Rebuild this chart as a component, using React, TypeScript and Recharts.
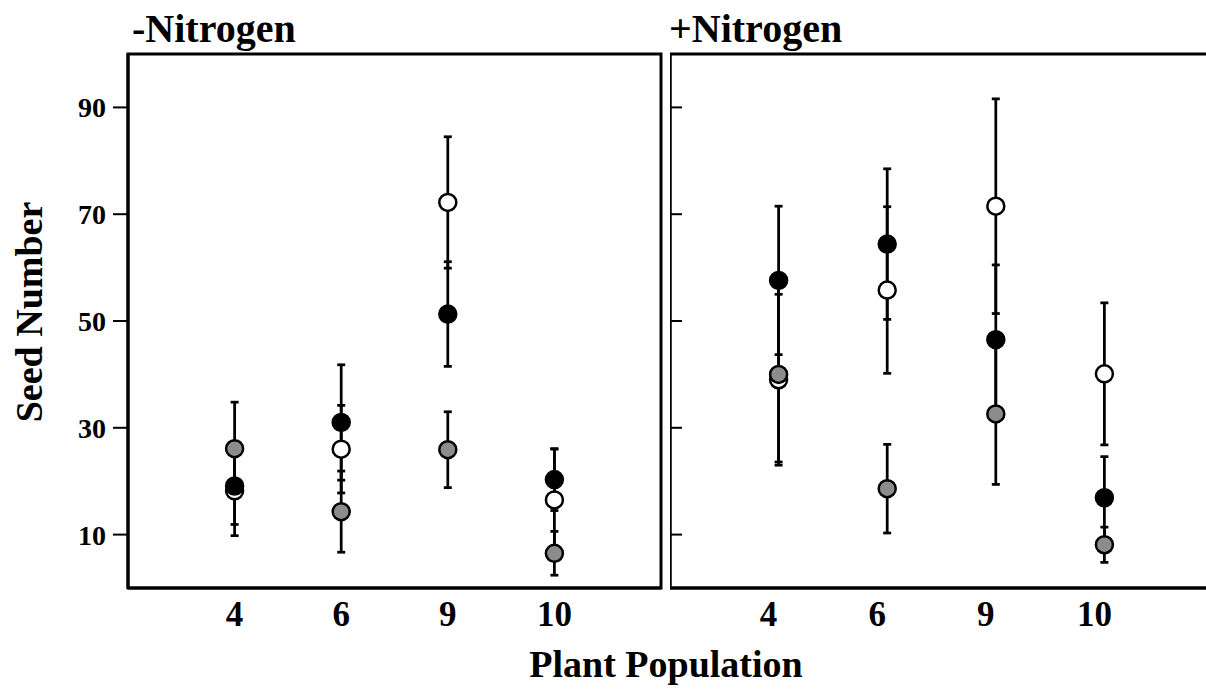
import { ErrorBar, ReferenceArea, Scatter, ScatterChart, XAxis, YAxis } from "recharts"

const populations = ["4", "6", "9", "10"]
const yTicks = [10, 30, 50, 70, 90]

// -Nitrogen
const lowNOpen = [18.2, 26.0, 72.2, 16.5]
const lowNOpenErr = [8.4, 8.2, 12.3, 9.5]
const lowNFilled = [19.1, 31.0, 51.3, 20.3]
const lowNFilledErr = [7.2, 10.8, 9.8, 5.8]
const lowNGrey = [26.1, 14.3, 25.9, 6.5]
const lowNGreyErr = [8.7, 7.6, 7.1, 4.1]

// +Nitrogen
const highNOpen = [39.0, 55.8, 71.5, 40.1]
const highNOpenErr = [16.0, 15.6, 20.1, 13.3]
const highNFilled = [57.6, 64.4, 46.5, 16.9]
const highNFilledErr = [13.9, 14.1, 14.0, 7.7]
const highNGrey = [40.0, 18.6, 32.6, 8.1]
const highNGreyErr = [16.4, 8.3, 13.2, 3.3]

const serif = "'Liberation Serif', 'Times New Roman', serif"

type Row = { x: number; y: number; err: number }
type Series = { name: string; fill: string; rows: Row[] }

const rows = (vals: number[], errs: number[]): Row[] =>
  vals.map((y, i) => ({ x: i + 1, y, err: errs[i] }))

const lowSeries: Series[] = [
  { name: "open", fill: "#ffffff", rows: rows(lowNOpen, lowNOpenErr) },
  { name: "filled", fill: "#000000", rows: rows(lowNFilled, lowNFilledErr) },
  { name: "grey", fill: "#8c8c8c", rows: rows(lowNGrey, lowNGreyErr) },
]

const highSeries: Series[] = [
  { name: "open", fill: "#ffffff", rows: rows(highNOpen, highNOpenErr) },
  { name: "filled", fill: "#000000", rows: rows(highNFilled, highNFilledErr) },
  { name: "grey", fill: "#8c8c8c", rows: rows(highNGrey, highNGreyErr) },
]

function Panel({ series, first, width }: { series: Series[]; first: boolean; width: number }) {
  const axisW = first ? 128 : 10
  return (
    <ScatterChart width={width} height={689} margin={{ top: 54, right: width - axisW - 533, bottom: 41, left: 0 }}>
      <ReferenceArea x1={0} x2={5} y1={0} y2={100} fill="none" stroke="#000" strokeWidth={3} />
      <XAxis
        type="number"
        dataKey="x"
        domain={[0, 5]}
        ticks={[1, 2, 3, 4]}
        interval={0}
        tickFormatter={(v: number) => populations[v - 1]}
        axisLine={{ stroke: "#000", strokeWidth: 3 }}
        tickLine={false}
        tickSize={0}
        tickMargin={13}
        height={60}
        tick={{ fill: "#000", fontSize: 35, fontWeight: "bold", fontFamily: serif, dx: first ? 0 : -10 }}
      />
      <YAxis
        type="number"
        dataKey="y"
        domain={[0, 100]}
        ticks={yTicks}
        interval={0}
        width={axisW}
        mirror={!first}
        axisLine={{ stroke: "#000", strokeWidth: 3 }}
        tickLine={{ stroke: "#000", strokeWidth: 2 }}
        tickSize={first ? 15 : 12}
        tickMargin={7}
        tickFormatter={(v: number) => (first ? String(v) : "")}
        tick={{ fill: "#000", fontSize: 28, fontWeight: "bold", fontFamily: serif }}
      />
      {series.map((s) => (
        <Scatter key={s.name + "-err"} data={s.rows} isAnimationActive={false} shape={() => <g />}>
          <ErrorBar dataKey="err" direction="y" width={4} stroke="#000" strokeWidth={2.75} />
        </Scatter>
      ))}
      {series.map((s) => (
        <Scatter
          key={s.name}
          data={s.rows}
          isAnimationActive={false}
          shape={(p: any) => <circle cx={p.cx} cy={p.cy} r={8.5} fill={s.fill} stroke="#000" strokeWidth={2.5} />}
        />
      ))}
    </ScatterChart>
  )
}

export default function App() {
  return (
    <div style={{ position: "fixed", left: 0, top: 0, width: 1206, height: 689, overflow: "hidden", background: "#fff" }}>
      <div style={{ position: "absolute", left: 0, top: 0 }}>
        <Panel series={lowSeries} first={true} width={680} />
      </div>
      <div style={{ position: "absolute", left: 670, top: 0 }}>
        <Panel series={highSeries} first={false} width={560} />
      </div>
      <svg width={1206} height={689} style={{ position: "absolute", left: 0, top: 0, pointerEvents: "none" }}>
        <g fontFamily={serif} fontWeight="bold" fill="#000">
          <text x={132} y={42} fontSize={40}>-Nitrogen</text>
          <text x={669} y={42} fontSize={40}>+Nitrogen</text>
          <text x={42} y={312} fontSize={38} textAnchor="middle" transform="rotate(-90 42 312)">Seed Number</text>
          <text x={666} y={677} fontSize={38} textAnchor="middle">Plant Population</text>
        </g>
      </svg>
    </div>
  )
}
